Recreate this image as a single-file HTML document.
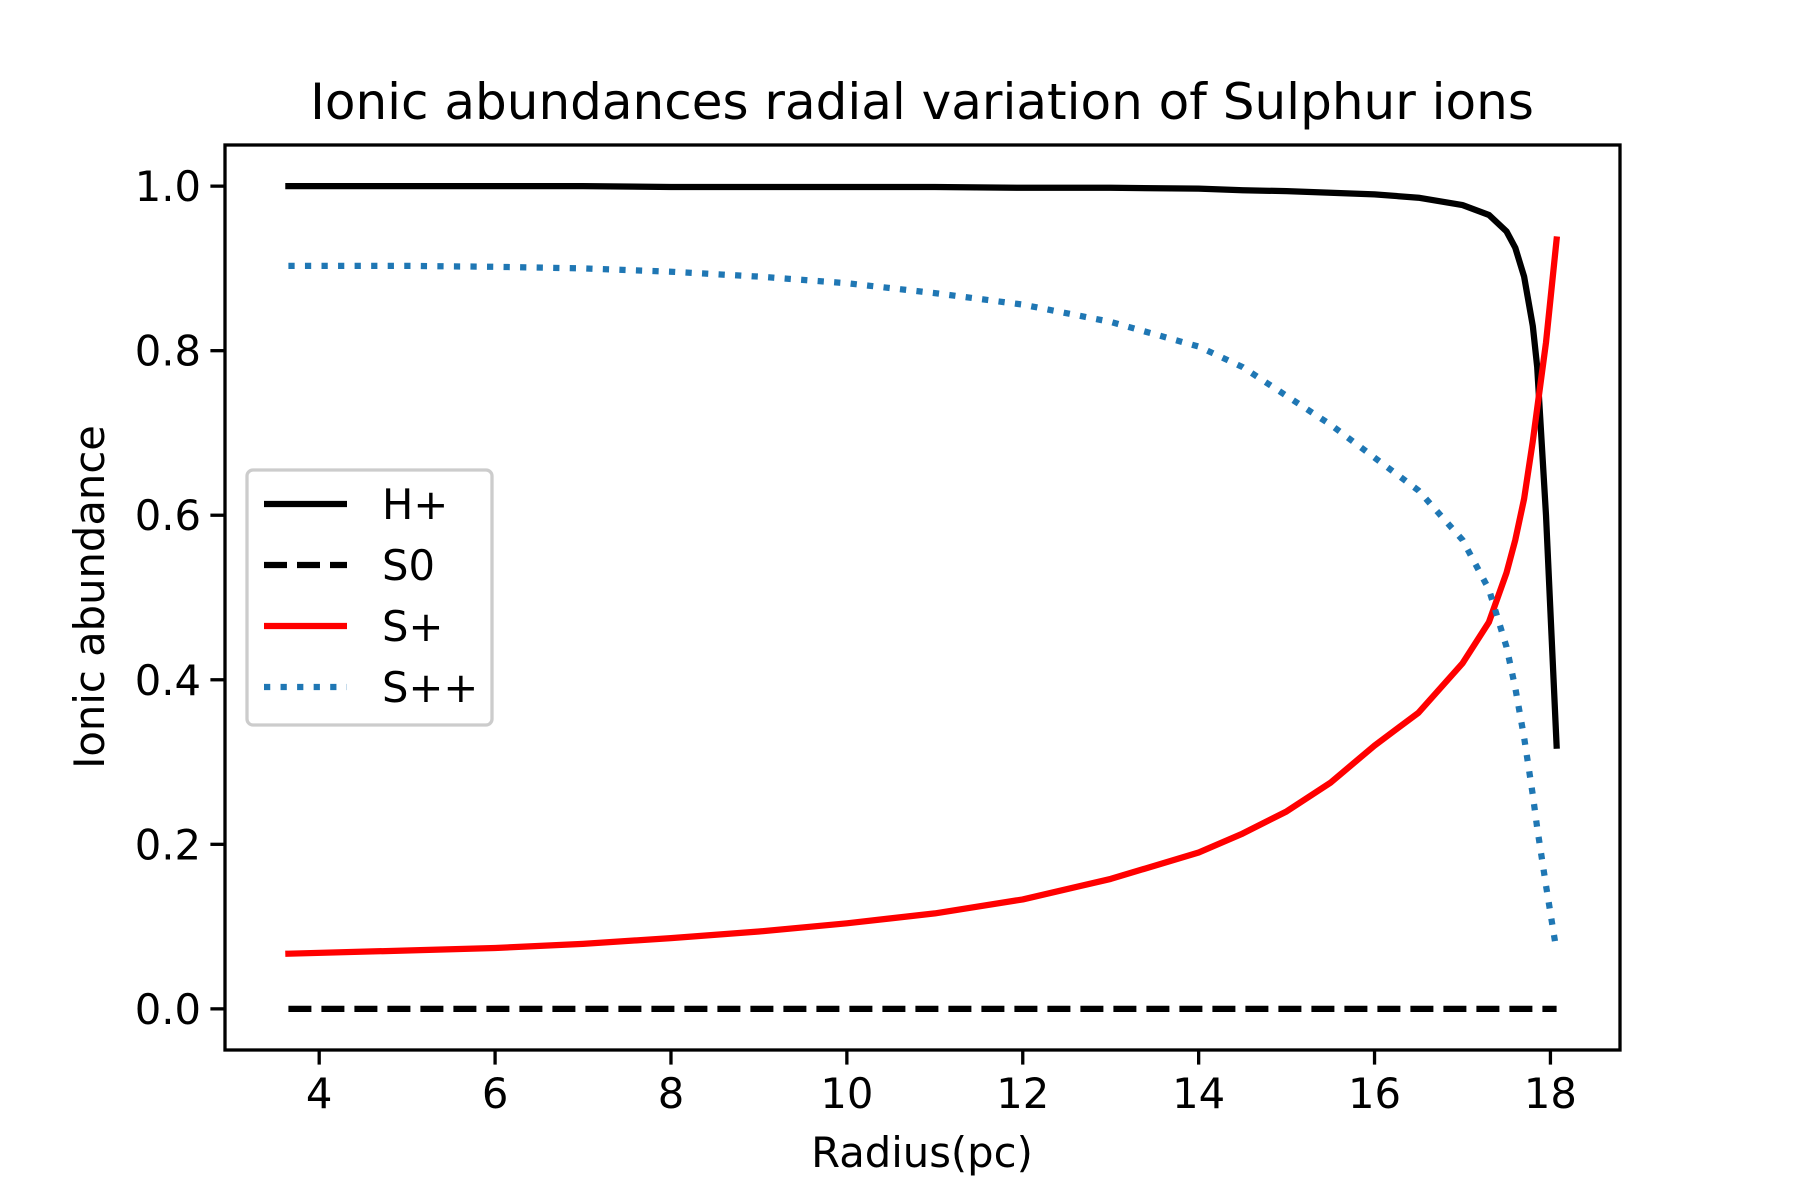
<!DOCTYPE html>
<html><head><meta charset="utf-8"><style>body{margin:0;background:#fff}svg{display:block}text{font-family:"DejaVu Sans","Liberation Sans",sans-serif;fill:#000}</style></head>
<body>
<svg id="chart" width="1800" height="1200" viewBox="0 0 1800 1200" xmlns="http://www.w3.org/2000/svg">
<rect width="1800" height="1200" fill="#fff"/>
<text x="922" y="119" font-size="50" text-anchor="middle">Ionic abundances radial variation of Sulphur ions</text>
<g id="plot"></g>
<text x="922" y="1167" font-size="41.7" text-anchor="middle">Radius(pc)</text>
<text transform="translate(104,597) rotate(-90)" font-size="41.7" text-anchor="middle">Ionic abundance</text>
</svg>
<script>
const radius = [3.65,5,6,7,8,9,10,11,12,13,14,14.5,15,15.5,16,16.5,17,17.3,17.5,17.6,17.7,17.8,17.85,17.95,18.07];
const hPlus = [1.0,1.0,1.0,1.0,0.999,0.999,0.999,0.999,0.998,0.998,0.997,0.995,0.994,0.992,0.99,0.986,0.977,0.965,0.945,0.925,0.89,0.83,0.78,0.6,0.32];
const s0 = [0,0,0,0,0,0,0,0,0,0,0,0,0,0,0,0,0,0,0,0,0,0,0,0,0];
const sPlus = [0.067,0.071,0.074,0.079,0.086,0.094,0.104,0.116,0.133,0.158,0.19,0.213,0.24,0.275,0.32,0.36,0.42,0.47,0.53,0.57,0.62,0.69,0.73,0.81,0.935];
const sPlusPlus = [0.903,0.903,0.902,0.9,0.896,0.89,0.882,0.87,0.856,0.835,0.805,0.78,0.745,0.71,0.67,0.63,0.57,0.51,0.44,0.39,0.33,0.26,0.22,0.15,0.07];
const xTicks = [4,6,8,10,12,14,16,18];
const yTicks = [0.0,0.2,0.4,0.6,0.8,1.0];
const seriesNames = ["H+","S0","S+","S++"];

const L=225,R=1620,T=145,B=1050;
const xmin=2.929,xmax=18.791,ymin=-0.05,ymax=1.05;
const xs=v=>L+(v-xmin)/(xmax-xmin)*(R-L);
const ys=v=>B-(v-ymin)/(ymax-ymin)*(B-T);
const NS="http://www.w3.org/2000/svg";
const g=document.getElementById('plot');
function mk(tag,attrs){const e=document.createElementNS(NS,tag);for(const k in attrs)e.setAttribute(k,attrs[k]);g.appendChild(e);return e;}
const styles=[
 {stroke:"#000",dash:"",cap:"square"},
 {stroke:"#000",dash:"23 10",cap:"butt"},
 {stroke:"#ff0000",dash:"",cap:"square"},
 {stroke:"#1f77b4",dash:"6.25 10.3",cap:"butt"}];
const data=[hPlus,s0,sPlus,sPlusPlus];
const names=['series-h-plus','series-s0','series-s-plus','series-s-plus-plus'];
data.forEach((arr,i)=>{
 const d=arr.map((v,j)=>(j?'L':'M')+xs(radius[j]).toFixed(1)+' '+ys(v).toFixed(1)).join(' ');
 const p=mk('path',{d:d,fill:'none',stroke:styles[i].stroke,'stroke-width':6.25,'stroke-dasharray':styles[i].dash,'stroke-linecap':styles[i].cap,'stroke-linejoin':'round'});
 
 
});
const frame=mk('rect',{x:L,y:T,width:R-L,height:B-T,fill:'none',stroke:'#000','stroke-width':3.3});


xTicks.forEach(t=>{
 const x=xs(t);
 const l=mk('line',{x1:x,x2:x,y1:B,y2:B+14.6,stroke:'#000','stroke-width':3.3});
 
 
 const tx=mk('text',{x:x,y:B+58,'font-size':41.7,'text-anchor':'middle'});
 tx.textContent=t;
 
 
});
yTicks.forEach(t=>{
 const y=ys(t);
 const l=mk('line',{x1:L-14.6,x2:L,y1:y,y2:y,stroke:'#000','stroke-width':3.3});
 
 
 const tx=mk('text',{x:L-24,y:y+15,'font-size':41.7,'text-anchor':'end'});
 tx.textContent=t.toFixed(1);
 
 
});
const lb=mk('rect',{x:247,y:470,width:245,height:255,rx:6,fill:'#fff','fill-opacity':0.8,stroke:'#ccc','stroke-width':3.3});


seriesNames.forEach((n,i)=>{
 const y=504+i*61;
 const l=mk('line',{x1:264,x2:347,y1:y,y2:y,stroke:styles[i].stroke,'stroke-width':6.25,'stroke-dasharray':styles[i].dash,'stroke-linecap':'butt'});
 
 
 const tx=mk('text',{x:382,y:y+15,'font-size':41.7});
 tx.textContent=n;
 
 
});
</script>
</body></html>
